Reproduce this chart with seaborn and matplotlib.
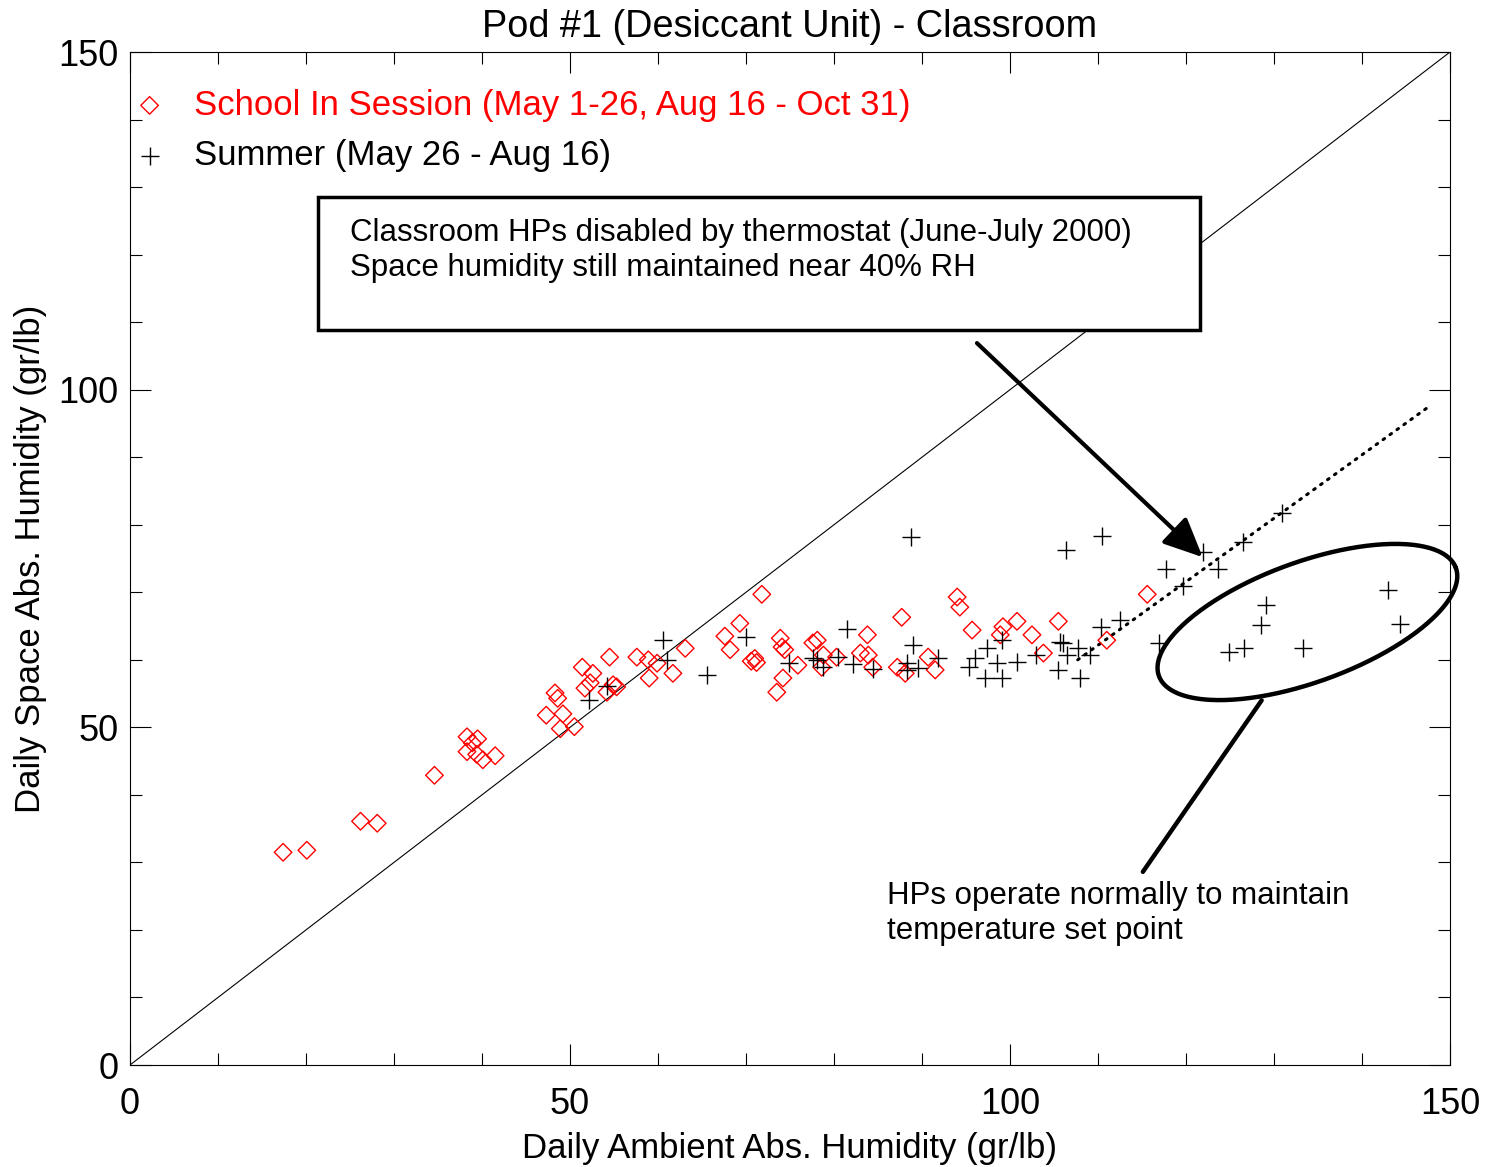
import numpy as np
import pandas as pd
import matplotlib
matplotlib.use('Agg')
import matplotlib.pyplot as plt
import seaborn as sns

# data (gr/lb)
school_x = [17.4, 20.1, 26.2, 28.1, 34.6, 38.3, 39.5, 38.9, 38.3, 39.4,
            40.1, 41.5, 47.3, 48.3, 48.6, 49.2, 48.9, 50.5, 51.4, 52.6,
            51.7, 52.3, 54.5, 54.2, 54.9, 55.3, 57.6, 58.9, 59.0, 59.9,
            61.7, 63.1, 67.6, 69.3, 68.2, 71.8, 70.6, 71.0, 71.2, 73.9,
            74.1, 74.4, 74.2, 73.5, 75.9, 77.6, 78.1, 78.8, 78.6, 80.3,
            83.0, 83.9, 83.8, 84.4, 87.7, 87.2, 88.1, 90.7, 91.5, 94.0,
            94.3, 95.7, 98.9, 99.2, 100.8, 102.5, 103.8, 105.5, 111.0, 115.6]
school_y = [31.5, 31.8, 36.1, 35.8, 42.9, 48.6, 48.3, 47.7, 46.4, 46.0,
            45.2, 45.8, 51.8, 55.1, 54.3, 52.0, 49.8, 50.1, 58.9, 58.0,
            55.8, 56.6, 60.4, 55.2, 56.3, 56.0, 60.4, 60.0, 57.3, 59.5,
            58.0, 61.7, 63.5, 65.4, 61.5, 69.7, 59.8, 60.2, 59.6, 63.2,
            61.9, 61.5, 57.3, 55.2, 59.2, 62.5, 62.9, 60.7, 58.9, 60.4,
            61.0, 60.7, 63.7, 58.9, 66.3, 58.9, 58.0, 60.4, 58.5, 69.3,
            67.8, 64.4, 63.7, 64.9, 65.7, 63.7, 61.0, 65.7, 62.9, 69.7]

summer_x = [52.2, 54.2, 60.6, 61.0, 65.6, 70.0, 74.9, 77.6, 78.1, 78.8,
            80.5, 81.5, 82.2, 84.4, 88.7, 88.3, 89.0, 89.5, 91.8, 95.3,
            96.0, 97.4, 97.2, 98.5, 99.1, 99.1, 100.8, 103.0, 105.7, 106.0,
            105.5, 106.5, 107.7, 109.1, 108.0, 106.4, 110.5, 110.3, 112.5, 116.9,
            117.7, 119.7, 121.9, 123.6, 126.5, 130.9, 124.9, 126.6, 128.5, 129.1,
            133.3, 143.0, 144.3, 88.3]
summer_y = [54.0, 56.1, 62.9, 60.0, 57.8, 63.4, 59.5, 60.3, 60.0, 58.9,
            60.4, 64.6, 59.4, 58.6, 78.2, 58.5, 62.2, 58.8, 60.3, 58.9,
            60.3, 61.7, 57.3, 59.5, 57.3, 62.9, 59.7, 60.7, 62.6, 62.5,
            58.5, 60.7, 61.7, 60.7, 57.3, 76.3, 78.3, 64.9, 65.9, 62.5,
            73.4, 70.9, 76.0, 73.4, 77.4, 81.7, 61.2, 61.7, 65.2, 68.1,
            61.7, 70.3, 65.3, 59.5]

# dotted trend line for the summer points
trend_x = [107.7, 147.5]
trend_y = [60.0, 97.4]

school_label = 'School In Session (May 1-26, Aug 16 - Oct 31)'
summer_label = 'Summer (May 26 - Aug 16)'

school_df = pd.DataFrame({'ambient': school_x, 'space': school_y})
summer_df = pd.DataFrame({'ambient': summer_x, 'space': summer_y})

sns.set_style('ticks')
plt.rcParams['font.family'] = ['Liberation Sans', 'DejaVu Sans']
plt.rcParams['text.color'] = 'black'
plt.rcParams['axes.labelcolor'] = 'black'
plt.rcParams['xtick.color'] = 'black'
plt.rcParams['ytick.color'] = 'black'
plt.rcParams['axes.edgecolor'] = 'black'

fig = plt.figure(figsize=(14.87, 11.67), dpi=100)
ax = fig.add_axes([0.0874, 0.0874, 0.8877, 0.868])

# 1:1 line
ax.plot([0, 150], [0, 150], color='black', lw=0.8, zorder=1)

sns.scatterplot(data=school_df, x='ambient', y='space', marker='D', s=80,
                facecolor='none', edgecolor='red', linewidth=1.0,
                label=school_label, ax=ax, zorder=3)
sns.scatterplot(data=summer_df, x='ambient', y='space', marker='+', s=180,
                color='black', linewidth=1.0, label=summer_label, ax=ax, zorder=3)

ax.plot(trend_x, trend_y, color='black', lw=2.2, linestyle=(0, (0.6, 2.2)),
        dash_capstyle='round', zorder=2)

# annotation box (opaque, hides the 1:1 line behind it)
ax.add_patch(plt.Rectangle((21.4, 108.8), 100.2, 19.7, facecolor='white',
                           edgecolor='black', lw=2.5, zorder=4))
ax.text(25, 125.4, 'Classroom HPs disabled by thermostat (June-July 2000)\n'
        'Space humidity still maintained near 40% RH',
        fontsize=22.5, va='top', ha='left', linespacing=1.2, zorder=5)
ax.annotate('', xy=(121.9, 75.2), xytext=(96.25, 106.9),
            arrowprops=dict(arrowstyle='-|>,head_length=2.4,head_width=1.1',
                            color='black', lw=3, shrinkA=0, shrinkB=0))

# ellipse around the normal-HP points (drawn in pixel-shaped space)
t = np.linspace(0, 2 * np.pi, 300)
ang = np.deg2rad(20)
a_px, b_px = 158, 60
px = a_px * np.cos(t) * np.cos(ang) - b_px * np.sin(t) * np.sin(ang)
py = a_px * np.cos(t) * np.sin(ang) + b_px * np.sin(t) * np.cos(ang)
ax.plot(133.8 + px / 8.8, 65.6 + py / 6.753, color='black', lw=3.2, zorder=4,
        clip_on=False)
ax.plot([128.6, 115.1], [54.0, 28.6], color='black', lw=3.2, zorder=4)
ax.text(86, 27.2, 'HPs operate normally to maintain\ntemperature set point',
        fontsize=22.5, va='top', ha='left', linespacing=1.2)

ax.set_xlim(0, 150)
ax.set_ylim(0, 150)
ax.set_xticks([0, 50, 100, 150])
ax.set_yticks([0, 50, 100, 150])
ax.set_xticks(np.arange(0, 151, 10), minor=True)
ax.set_yticks(np.arange(0, 151, 10), minor=True)
ax.tick_params(which='both', direction='in', top=True, right=True,
               labelsize=26, width=0.8)
ax.tick_params(which='major', length=15)
ax.tick_params(which='minor', length=8.5)
ax.tick_params(axis='x', pad=16)
ax.tick_params(axis='y', pad=8)
for sp in ax.spines.values():
    sp.set_linewidth(0.8)

ax.set_title('Pod #1 (Desiccant Unit) - Classroom', fontsize=27.3, pad=11)
ax.set_xlabel('Daily Ambient Abs. Humidity (gr/lb)', fontsize=25, labelpad=7)
ax.set_ylabel('Daily Space Abs. Humidity (gr/lb)', fontsize=25, labelpad=8)

leg = ax.legend(loc='upper left', bbox_to_anchor=(-0.0167, 0.988), frameon=False,
                fontsize=25, handletextpad=0.77, labelspacing=0.5,
                borderaxespad=0.3, handlelength=1.0)
leg.get_texts()[0].set_color('red')

fig.savefig('out.png', dpi=100)
